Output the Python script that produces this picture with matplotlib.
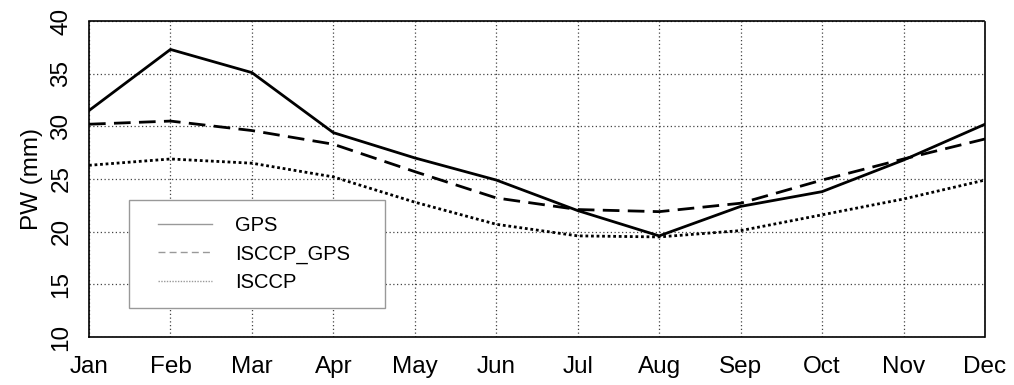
import matplotlib
matplotlib.use("Agg")
import matplotlib.pyplot as plt
from matplotlib.lines import Line2D
from matplotlib.legend_handler import HandlerLine2D

plt.rcParams["font.family"] = ["Liberation Sans", "DejaVu Sans"]

months = ["Jan", "Feb", "Mar", "Apr", "May", "Jun",
          "Jul", "Aug", "Sep", "Oct", "Nov", "Dec"]
gps = [31.5, 37.3, 35.1, 29.4, 27.0, 24.9, 22.0, 19.6, 22.4, 23.8, 26.8, 30.2]
isccp_gps = [30.2, 30.5, 29.6, 28.3, 25.7, 23.2, 22.1, 21.9, 22.7, 24.9, 26.9, 28.8]
isccp = [26.3, 26.9, 26.5, 25.2, 22.8, 20.7, 19.6, 19.5, 20.1, 21.6, 23.1, 24.9]
yticks = [10, 15, 20, 25, 30, 35, 40]

fig = plt.figure(figsize=(10.14, 3.85), dpi=100)
ax = fig.add_axes([89 / 1014, 48 / 385, 896 / 1014, 316 / 385])

x = list(range(len(months)))
ax.plot(x, gps, color="black", linestyle="-", linewidth=2)
ax.plot(x, isccp_gps, color="black", linestyle=(0, (6, 3)), linewidth=2)
ax.plot(x, isccp, color="black", linestyle=(0, (1, 1)), linewidth=2)

ax.set_xlim(0, 11)
ax.set_ylim(10, 40)
ax.set_xticks(x)
ax.set_xticklabels(months, fontsize=17.5)
ax.set_yticks(yticks)
ax.set_yticklabels([str(v) for v in yticks], fontsize=17.5, rotation=90, va="center")
ax.tick_params(axis="x", length=0, pad=14)
ax.tick_params(axis="y", length=0, pad=12)
ax.set_ylabel("PW (mm)", fontsize=17.5, labelpad=5)

ax.grid(True, color="#444444", linestyle=(0, (1, 2)), linewidth=0.9)
for sp in ax.spines.values():
    sp.set_linestyle((0, (1, 1)))
    sp.set_linewidth(1.2)

# legend handles are drawn thin and grey in the original
handles = [
    Line2D([], [], color="#999999", linestyle="-", linewidth=1),
    Line2D([], [], color="#999999", linestyle=(0, (5, 3)), linewidth=1),
    Line2D([], [], color="#999999", linestyle=(0, (1, 1)), linewidth=1),
]
leg = ax.legend(handles, ["GPS", "ISCCP_GPS", "ISCCP"], loc="lower left",
                bbox_to_anchor=(0.045, 0.092, 0.285, 0.342), mode="expand",
                borderaxespad=0, fancybox=False, framealpha=1,
                fontsize=14.5, handlelength=3.3, handletextpad=1.15,
                labelspacing=0.45, borderpad=0.8,
                handler_map={Line2D: HandlerLine2D(xpad=0.6)})
leg.get_frame().set_edgecolor("#999999")
leg.get_frame().set_linewidth(1)

fig.savefig("out.png", dpi=100)
